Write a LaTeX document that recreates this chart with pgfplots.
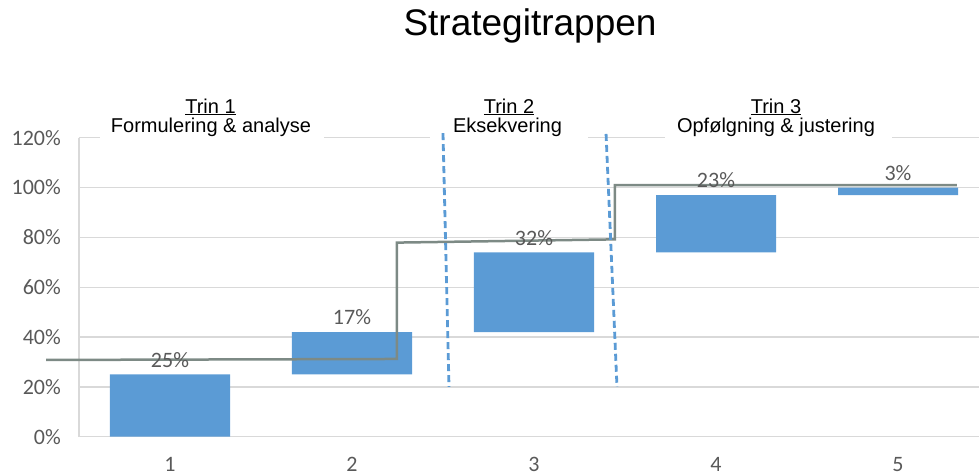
\documentclass[border=0pt]{standalone}
\usepackage{fontspec}
\setmainfont{Liberation Sans}
\newfontfamily\calibri{Carlito}
\usepackage{pgfplots}
\pgfplotsset{compat=1.18}
\definecolor{barblue}{RGB}{91,155,213}
\definecolor{gridgray}{RGB}{217,217,217}
\definecolor{ticktext}{RGB}{89,89,89}
\definecolor{linegray}{RGB}{125,138,133}
\begin{document}
\begin{tikzpicture}
\useasboundingbox (-79pt,-38.3pt) rectangle (900pt,436.7pt);
\begin{axis}[
  scale only axis, width=900pt, height=299pt,
  xmin=0.5, xmax=5.4451, ymin=0, ymax=120,
  ybar stacked, bar width=120pt,
  axis x line*=bottom, axis y line*=left,
  axis line style={gridgray, line width=1.4pt},
  ymajorgrids, grid style={gridgray, line width=1.4pt},
  major tick length=0pt,
  ytick={0,20,40,60,80,100,120},
  yticklabels={0\%,20\%,40\%,60\%,80\%,100\%,120\%},
  xtick={1,2,3,4,5},
  xticklabels={1,2,3,4,5},
  tick label style={font=\calibri\fontsize{22}{26}\selectfont, text=ticktext},
  yticklabel style={anchor=east, inner sep=0pt, xshift=-18pt},
  xticklabel style={anchor=base, inner sep=0pt, yshift=-34.5pt},
]
\addplot[fill=none, draw=none] coordinates {(1,0) (2,25) (3,42) (4,74) (5,97)};
\addplot[fill=barblue, draw=none] coordinates {(1,25) (2,17) (3,32) (4,23) (5,3)};
\end{axis}
\begin{axis}[
  scale only axis, width=900pt, height=299pt,
  xmin=0.5, xmax=5.4451, ymin=0, ymax=120,
  hide axis, clip=false,
]
% white boxes behind the step titles
\fill[white] (axis cs:0.6154,116.5) rectangle (axis cs:1.8462,124);
\fill[white] (axis cs:2.4286,116.5) rectangle (axis cs:3.2967,124);
\fill[white] (axis cs:3.7198,116.5) rectangle (axis cs:4.9670,124);
% cumulative step line
\addplot[linegray, line width=2.5pt, mark=none] coordinates {
  (0.319,30.8) (2.247,31.2) (2.247,77.9) (3.445,79.2) (3.445,101) (5.324,101)};
% dashed separators
\addplot[barblue, line width=2.8pt, dash pattern=on 7pt off 4pt, mark=none] coordinates {(2.500,121.8) (2.533,20)};
\addplot[barblue, line width=2.8pt, dash pattern=on 7pt off 4pt, mark=none] coordinates {(3.396,121.5) (3.456,20)};
% data labels
\addplot[draw=none, mark=none, nodes near coords, point meta=explicit symbolic,
  every node near coord/.append style={anchor=center, yshift=14.5pt,
    font=\calibri\fontsize{22}{26}\selectfont, text=ticktext}]
  coordinates {(1,25)[25\%] (2,42)[17\%] (3,74)[32\%] (4,97)[23\%] (5,100)[3\%]};
% step titles
\node[anchor=base, font=\fontsize{20}{22}\selectfont] at (axis cs:1.2225,129.9) {\underline{Trin 1}};
\node[anchor=base, font=\fontsize{20}{22}\selectfont] at (axis cs:1.2253,121.9) {Formulering \& analyse};
\node[anchor=base, font=\fontsize{20}{22}\selectfont] at (axis cs:2.8626,129.9) {\underline{Trin 2}};
\node[anchor=base, font=\fontsize{20}{22}\selectfont] at (axis cs:2.8544,121.9) {Eksekvering};
\node[anchor=base, font=\fontsize{20}{22}\selectfont] at (axis cs:4.3297,129.9) {\underline{Trin 3}};
\node[anchor=base, font=\fontsize{20}{22}\selectfont] at (axis cs:4.3297,121.9) {Opfølgning \& justering};
\end{axis}
\node[anchor=base, font=\fontsize{37}{40}\selectfont] at (451pt,400.7pt) {Strategitrappen};
\end{tikzpicture}
\end{document}
